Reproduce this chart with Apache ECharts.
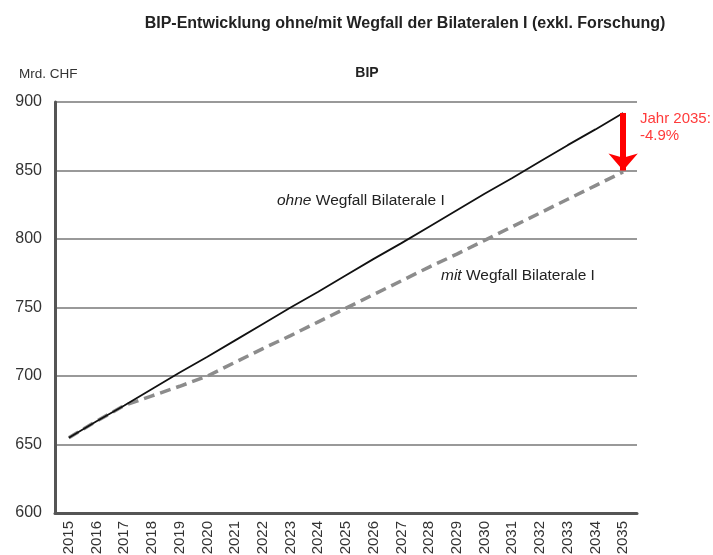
<!DOCTYPE html>
<html>
<head>
<meta charset="utf-8">
<script src="https://cdn.jsdelivr.net/npm/echarts@6/dist/echarts.min.js"></script>
<style>
  html, body { margin: 0; padding: 0; background: #fff; }
  #chart { width: 713px; height: 555px; }
</style>
</head>
<body>
<div id="chart"></div>
<script>
// BIP Linien-Diagramm
(function() {
  var years = ["2015", "2016", "2017", "2018", "2019", "2020", "2021", "2022", "2023", "2024",
    "2025", "2026", "2027", "2028", "2029", "2030", "2031", "2032", "2033", "2034", "2035"];
  // ohne Wegfall Bilaterale I
  var ohne = [655, 667, 678.5, 690.5, 702.5, 714, 726, 738, 750, 761.5,
    773.5, 785.5, 797, 809, 821, 833, 844.5, 856.5, 868.5, 880, 892];
  // mit Wegfall Bilaterale I
  var mit = [655, 667, 678.5, 685.5, 692.5, 700, 710, 720, 729.5, 739.5,
    749.5, 759.5, 769.5, 779.5, 789, 799, 809, 819, 829, 839, 849];
  var yTicks = [600, 650, 700, 750, 800, 850, 900];

  var font = "Liberation Sans";
  var myChart = echarts.init(document.getElementById("chart"));

  var option = {
    animation: false,
    textStyle: { fontFamily: font },
    title: [
      {
        text: "BIP-Entwicklung ohne/mit Wegfall der Bilateralen I (exkl. Forschung)",
        left: 405, top: 11, textAlign: "center",
        textStyle: { fontSize: 16, fontWeight: "bold", color: "#222", fontFamily: font }
      },
      {
        text: "BIP",
        left: 362, top: 61, textAlign: "center",
        textStyle: { fontSize: 14, fontWeight: "bold", color: "#222", fontFamily: font }
      },
      {
        text: "Mrd. CHF",
        left: 14, top: 62,
        textStyle: { fontSize: 13.5, fontWeight: "normal", color: "#333", fontFamily: font }
      }
    ],
    grid: { left: 55, right: 76, top: 102, bottom: 42, containLabel: false, outerBoundsMode: "none" },
    xAxis: {
      type: "category",
      data: years,
      boundaryGap: true,
      axisLine: { lineStyle: { color: "#555", width: 3 } },
      axisTick: { show: false },
      axisLabel: { rotate: 90, fontSize: 15, color: "#333", margin: 8, fontFamily: font }
    },
    yAxis: {
      type: "value",
      min: yTicks[0],
      max: yTicks[yTicks.length - 1],
      interval: 50,
      axisLine: { show: true, lineStyle: { color: "#555", width: 3 } },
      axisTick: { show: false },
      axisLabel: { fontSize: 16, color: "#333", margin: 13, fontFamily: font },
      splitLine: { lineStyle: { color: "#999", width: 2 } }
    },
    series: [
      {
        name: "mit Wegfall Bilaterale I",
        type: "line",
        data: mit,
        symbol: "none",
        z: 2,
        lineStyle: { color: "#8c8c8c", width: 3.5, type: [11, 6] }
      },
      {
        name: "ohne Wegfall Bilaterale I",
        type: "line",
        data: ohne,
        symbol: "none",
        z: 3,
        lineStyle: { color: "#111", width: 1.8 },
        markLine: {
          silent: true,
          symbol: ["none", "arrow"],
          symbolSize: [22, 17],
          label: { show: false },
          lineStyle: { color: "#ff0000", width: 6, type: "solid" },
          data: [[
            { coord: [years[20], ohne[20]] },
            { coord: [years[20], mit[20] + 1] }
          ]]
        }
      }
    ],
    graphic: [
      {
        type: "text", left: 640, top: 110,
        style: {
          text: "Jahr 2035:\n-4.9%",
          fill: "#ff3b3b", fontSize: 15, fontFamily: font, lineHeight: 17
        }
      },
      {
        type: "text", left: 277, top: 193,
        style: {
          text: "{i|ohne} Wegfall Bilaterale I",
          fill: "#222", fontSize: 15.5, fontFamily: font,
          rich: { i: { fontStyle: "italic", fontSize: 15.5, fill: "#222", fontFamily: font } }
        }
      },
      {
        type: "text", left: 441, top: 268,
        style: {
          text: "{i|mit} Wegfall Bilaterale I",
          fill: "#222", fontSize: 15.5, fontFamily: font,
          rich: { i: { fontStyle: "italic", fontSize: 15.5, fill: "#222", fontFamily: font } }
        }
      }
    ]
  };

  option.title[0].left = 400;
  myChart.setOption(option);
})();
</script>
</body>
</html>
